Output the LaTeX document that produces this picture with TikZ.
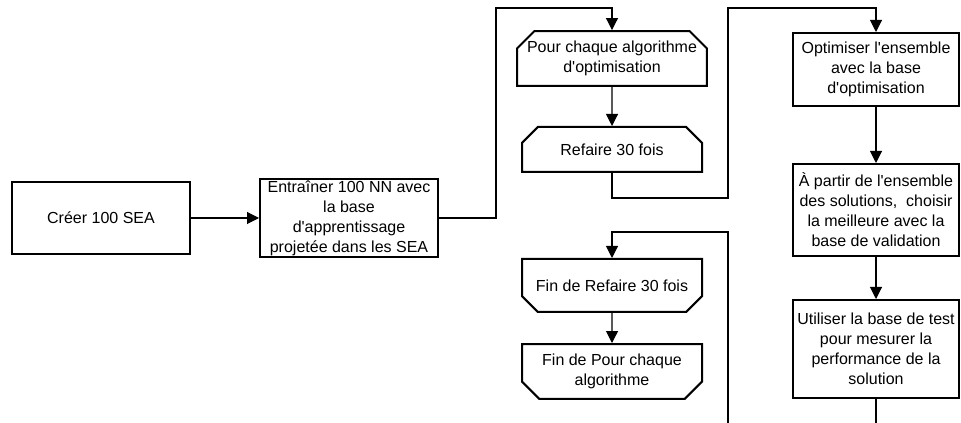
\documentclass[tikz,border=0pt]{standalone}
\usepackage{fontspec}
\setmainfont{Liberation Sans}[Ligatures=TeXOff]
\usetikzlibrary{arrows.meta,shapes.misc}
\begin{document}
\begin{tikzpicture}[x=0.75pt,y=-0.75pt,
  every node/.style={font=\fontsize{12}{15}\selectfont, align=center, inner sep=1pt},
  box/.style={draw, line width=1.5pt, rectangle},
  loopstart/.style={draw, line width=1.5pt, chamfered rectangle,
    chamfered rectangle corners={north west,north east}, chamfered rectangle sep=6.5pt},
  loopend/.style={draw, line width=1.5pt, chamfered rectangle,
    chamfered rectangle corners={south west,south east}, chamfered rectangle sep=6.5pt},
  wide/.style={minimum width=135pt},
  narrow/.style={minimum width=124.5pt},
  link/.style={line width=0.8pt},
  flow/.style={link, -{Triangle[length=9pt,width=9pt]}}
]
\useasboundingbox (0,0) rectangle (961,423);

% left column
\node[box, minimum width=133.5pt, minimum height=54pt] (creer) at (101,218) {Créer 100 SEA};
\node[box, minimum width=133.5pt, minimum height=54pt] (entrainer) at (349,218)
  {Entraîner 100 NN avec\\la base\\d'apprentissage\\projetée dans les SEA};

% loop column
\node[loopstart, wide, minimum height=38.25pt] (pour) at (612,58.5)
  {Pour chaque algorithme\\d'optimisation};
\node[loopstart, wide, minimum height=33.75pt] (refaire) at (612,149.5) {Refaire 30 fois};
\node[loopend, wide, minimum height=39.75pt] (finrefaire) at (612,285.5) {Fin de Refaire 30 fois};
\node[loopend, wide, minimum height=38.25pt] (finpour) at (612,371.5)
  {Fin de Pour chaque\\algorithme};

% body of the loop
\node[box, narrow, minimum height=54.75pt] (optim) at (876,69.5)
  {Optimiser l'ensemble\\avec la base\\d'optimisation};
\node[box, narrow, minimum height=69pt] (choisir) at (876,210)
  {À partir de l'ensemble\\des solutions,\ \ choisir\\la meilleure avec la\\base de validation};
\node[box, narrow, minimum height=73.5pt] (tester) at (876,349)
  {Utiliser la base de test\\pour mesurer la\\performance de la\\solution};

% routing points
\coordinate (up1) at (496,8);
\coordinate (low1) at (728,198);
\coordinate (up2) at (728,8);
\coordinate (inB) at (728,423);
\coordinate (mid2) at (728,232);
\path (tester.south) ++(0,26) coordinate (outB);

% connectors
\draw[flow] (creer) -- (entrainer);
\draw[flow] (entrainer.east) -| (up1) -| (pour.north);
\draw[flow] (pour) -- (refaire);
\draw[flow] (refaire.south) |- (low1) -- (up2) -| (optim.north);
\draw[flow] (optim) -- (choisir);
\draw[flow] (choisir) -- (tester);
\draw[link] (tester.south) -- (outB);
\draw[flow] (inB) -- (mid2) -| (finrefaire.north);
\draw[flow] (finrefaire) -- (finpour);
\end{tikzpicture}
\end{document}
